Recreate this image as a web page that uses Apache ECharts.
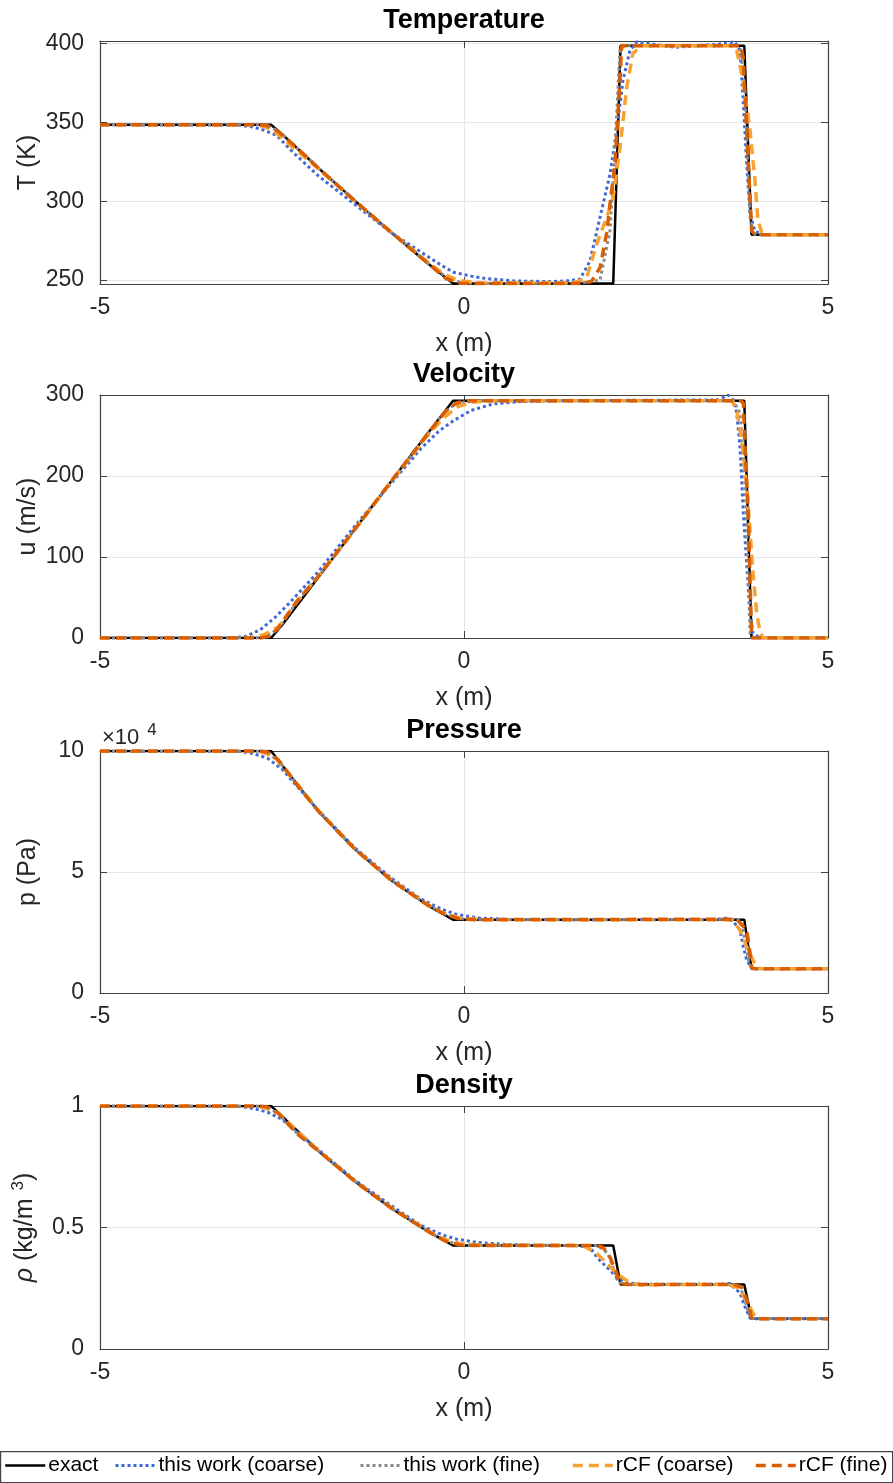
<!DOCTYPE html>
<html>
<head>
<meta charset="utf-8">
<script src="https://cdn.jsdelivr.net/npm/echarts@6/dist/echarts.min.js"></script>
<style>
  html, body { margin: 0; padding: 0; background: #fff; }
  #chart { width: 893px; height: 1483px; }
</style>
</head>
<body>
<div id="chart"></div>
<script>
const seriesNames = ['exact', 'this work (coarse)', 'this work (fine)', 'rCF (coarse)', 'rCF (fine)']
const xTicks = [-5, 0, 5]
const tempTicks = [250, 300, 350, 400]

// temperature (K)
const tempExact = [[-5, 348.4], [-2.65, 348.4], [-2.5, 342.5], [-2, 321], [-1.5, 300.3], [-1, 280.1], [-0.5, 260.7], [-0.15, 247.8], [2.05, 247.8], [2.15, 398.5], [3.85, 398.5], [3.95, 278.7], [5, 278.7]]
const tempCoarse = [[-5, 348.4], [-3.1, 348.2], [-2.9, 347], [-2.75, 345], [-2.57, 341.6], [-2.35, 331], [-2, 316], [-1.5, 298], [-1, 280], [-0.6, 268], [-0.3, 259], [-0.15, 255], [0.1, 252.5], [0.3, 251], [0.7, 249.4], [1.2, 249], [1.45, 249.6], [1.593, 250.6], [1.731, 262], [1.868, 289.7], [2.005, 317], [2.098, 344.8], [2.184, 376.6], [2.28, 395.7], [2.376, 401], [2.6, 399.5], [2.9, 397.5], [3.2, 398.5], [3.5, 399.5], [3.72, 401], [3.791, 395.7], [3.832, 366], [3.883, 323.8], [3.929, 292], [3.997, 281], [4.1, 278.8], [5, 278.7]]
const tempFine = [[-5, 348.4], [-2.85, 348.4], [-2.7, 347.8], [-2.55, 344.5], [-2.3, 334], [-2, 321], [-1.5, 300.3], [-1, 280.3], [-0.5, 261], [-0.25, 252], [-0.05, 248.5], [0.2, 247.8], [1.6, 248], [1.868, 250], [2.005, 281], [2.047, 313], [2.098, 356], [2.143, 396], [2.2, 398.5], [3.75, 398.5], [3.8, 396], [3.86, 370], [3.9, 320], [3.93, 290], [3.96, 280], [4.0, 278.7], [5, 278.7]]
const tempRcfCoarse = [[-5, 348.4], [-2.9, 348.4], [-2.75, 347.5], [-2.6, 344], [-2.4, 336], [-2, 320.5], [-1.5, 300], [-1, 280.3], [-0.5, 261.5], [-0.3, 254.5], [-0.1, 250], [0.2, 248.2], [1.45, 248.3], [1.55, 249], [1.685, 251.5], [1.823, 273], [1.96, 289.7], [2.047, 302], [2.143, 334], [2.235, 372], [2.321, 393.8], [2.45, 398.5], [3.68, 398.5], [3.746, 395.7], [3.832, 376.6], [3.929, 344.8], [3.997, 313], [4.038, 287.5], [4.093, 280], [4.2, 278.7], [5, 278.7]]
const tempRcfFine = [[-5, 348.4], [-2.8, 348.4], [-2.7, 347.8], [-2.55, 344], [-2.3, 334], [-2, 321], [-1.5, 300.3], [-1, 280.2], [-0.5, 260.8], [-0.25, 251], [-0.05, 248], [0.15, 247.8], [1.6, 247.8], [1.75, 249], [1.87, 258], [1.96, 280], [2.005, 298], [2.074, 323.8], [2.143, 376.6], [2.166, 398.5], [3.8, 398.5], [3.835, 391.5], [3.883, 344.8], [3.929, 302.4], [3.953, 281.2], [4.0, 278.7], [5, 278.7]]

// velocity (m/s)
const velExact = [[-5, 0], [-2.65, 0], [-2.5, 15.9], [-2, 75.1], [-1.5, 134.2], [-1, 193.5], [-0.5, 252.6], [-0.15, 293], [3.85, 293], [3.95, 0], [5, 0]]
const velCoarse = [[-5, 0], [-3.2, 0], [-3.0, 2], [-2.8, 10], [-2.6, 25], [-2.4, 43], [-2, 82], [-1.5, 138], [-1, 191], [-0.6, 233], [-0.35, 255], [-0.15, 268], [0.1, 281], [0.4, 289], [0.8, 292], [1.5, 293], [3.5, 294], [3.626, 300], [3.695, 294], [3.746, 278], [3.791, 236], [3.815, 195], [3.837, 154], [3.883, 92], [3.929, 31], [3.97, 6], [4.066, 0], [5, 0]]
const velFine = [[-5, 0], [-2.85, 0], [-2.7, 3], [-2.55, 11], [-2.3, 44], [-2, 76], [-1.5, 134], [-1, 193], [-0.5, 251], [-0.3, 276], [-0.15, 287], [0, 291.5], [0.3, 293], [3.7, 293], [3.791, 278], [3.86, 195], [3.905, 72], [3.929, 6], [3.97, 0], [5, 0]]
const velRcfCoarse = [[-5, 0], [-2.95, 0], [-2.75, 4], [-2.55, 14], [-2.3, 44], [-2, 76], [-1.5, 134], [-1, 193], [-0.5, 250], [-0.3, 270], [-0.1, 285], [0.1, 291], [0.4, 293], [3.68, 293], [3.746, 281], [3.815, 244], [3.883, 187], [3.929, 133], [3.97, 80], [4.02, 31], [4.066, 8], [4.107, 0], [5, 0]]
const velRcfFine = [[-5, 0], [-2.8, 0], [-2.68, 2], [-2.55, 12], [-2.3, 45], [-2, 76], [-1.5, 134.2], [-1, 193.5], [-0.5, 252], [-0.25, 280], [-0.1, 290.5], [0.1, 293], [3.8, 293], [3.837, 290], [3.86, 236], [3.905, 154], [3.929, 72], [3.952, 0], [5, 0]]

// pressure (Pa)
const presExact = [[-5, 100000], [-2.65, 100000], [-2.5, 94200], [-2, 75090], [-1.5, 59450], [-1, 46580], [-0.5, 36230], [-0.15, 30313], [3.85, 30313], [3.95, 10000], [5, 10000]]
const presCoarse = [[-5, 100000], [-3.1, 99900], [-2.9, 99000], [-2.7, 97000], [-2.5, 92500], [-2, 75500], [-1.5, 60000], [-1, 47500], [-0.6, 39000], [-0.3, 34500], [-0.1, 32500], [0.2, 31000], [0.6, 30400], [1.5, 30300], [3.45, 30400], [3.608, 30900], [3.7, 29500], [3.791, 26000], [3.837, 19100], [3.883, 13600], [3.952, 10200], [4.03, 10000], [5, 10000]]
const presFine = [[-5, 100000], [-2.85, 100000], [-2.7, 99300], [-2.55, 96000], [-2.3, 86500], [-2, 75200], [-1.5, 59500], [-1, 46600], [-0.5, 36400], [-0.25, 32500], [-0.05, 30700], [0.2, 30313], [3.75, 30313], [3.8, 29500], [3.86, 22000], [3.91, 13000], [3.95, 10000], [5, 10000]]
const presRcfCoarse = [[-5, 100000], [-2.9, 100000], [-2.75, 99300], [-2.6, 97500], [-2.4, 90500], [-2, 75300], [-1.5, 59600], [-1, 46800], [-0.5, 36600], [-0.3, 33300], [-0.05, 31000], [0.3, 30300], [3.65, 30313], [3.695, 30000], [3.791, 26000], [3.883, 19100], [3.97, 13600], [4.038, 10300], [4.1, 10000], [5, 10000]]
const presRcfFine = [[-5, 100000], [-2.8, 100000], [-2.7, 99600], [-2.55, 96300], [-2.3, 86300], [-2, 75100], [-1.5, 59450], [-1, 46600], [-0.5, 36300], [-0.25, 32300], [-0.05, 30500], [0.15, 30313], [3.746, 30500], [3.883, 26000], [3.929, 16500], [3.952, 10300], [4.0, 10000], [5, 10000]]

// density (kg/m^3)
const rhoExact = [[-5, 1], [-2.65, 1], [-2.5, 0.958], [-2, 0.815], [-1.5, 0.69], [-1, 0.5794], [-0.5, 0.4843], [-0.15, 0.4263], [2.05, 0.4263], [2.15, 0.2656], [3.85, 0.2656], [3.95, 0.125], [5, 0.125]]
const rhoCoarse = [[-5, 1], [-3.1, 0.999], [-2.9, 0.99], [-2.7, 0.975], [-2.5, 0.945], [-2, 0.82], [-1.5, 0.695], [-1, 0.59], [-0.6, 0.51], [-0.3, 0.47], [-0.1, 0.452], [0.2, 0.438], [0.6, 0.43], [1.0, 0.427], [1.5, 0.426], [1.731, 0.419], [1.823, 0.378], [1.96, 0.337], [2.098, 0.296], [2.235, 0.272], [2.45, 0.266], [3.5, 0.266], [3.654, 0.27], [3.791, 0.23], [3.86, 0.173], [3.929, 0.127], [4.0, 0.125], [5, 0.125]]
const rhoFine = [[-5, 1], [-2.85, 1], [-2.7, 0.995], [-2.55, 0.968], [-2.3, 0.89], [-2, 0.815], [-1.5, 0.69], [-1, 0.58], [-0.5, 0.486], [-0.25, 0.444], [-0.05, 0.429], [0.2, 0.4263], [1.8, 0.4263], [1.868, 0.419], [1.978, 0.393], [2.047, 0.337], [2.115, 0.275], [2.2, 0.2656], [3.75, 0.2656], [3.8, 0.25], [3.86, 0.2], [3.91, 0.145], [3.95, 0.126], [5, 0.125]]
const rhoRcfCoarse = [[-5, 1], [-2.9, 1], [-2.75, 0.993], [-2.55, 0.972], [-2.3, 0.9], [-2, 0.817], [-1.5, 0.692], [-1, 0.582], [-0.5, 0.488], [-0.3, 0.455], [-0.05, 0.433], [0.3, 0.427], [1.5, 0.426], [1.635, 0.426], [1.823, 0.393], [1.96, 0.352], [2.098, 0.311], [2.28, 0.272], [2.459, 0.262], [2.7, 0.265], [3.6, 0.266], [3.746, 0.255], [3.883, 0.2], [3.97, 0.147], [4.02, 0.127], [4.1, 0.125], [5, 0.125]]
const rhoRcfFine = [[-5, 1], [-2.8, 1], [-2.7, 0.996], [-2.55, 0.97], [-2.3, 0.888], [-2, 0.815], [-1.5, 0.69], [-1, 0.58], [-0.5, 0.485], [-0.25, 0.443], [-0.05, 0.428], [0.15, 0.4263], [1.8, 0.4263], [1.909, 0.419], [2.005, 0.378], [2.098, 0.311], [2.143, 0.27], [2.25, 0.2656], [3.7, 0.2656], [3.815, 0.255], [3.905, 0.187], [3.952, 0.127], [4.0, 0.125], [5, 0.125]]

const font = 'Liberation Sans, Arial, Helvetica, sans-serif'
const axisColor = '#404040'
const textColor = '#262626'

const lineStyles = [
  { color: '#000000', width: 2.5, type: 'solid' },
  { color: '#3f68d6', width: 3, type: [3, 3] },
  { color: '#8a8a8a', width: 3, type: [3, 3] },
  { color: '#f9a231', width: 3.5, type: [10, 6] },
  { color: '#d95f02', width: 3.5, type: [10, 6] },
]

const panels = [
  { title: 'Temperature', yName: 'T (K)', top: 41, height: 243, min: 247.5, max: 401.5, custom: tempTicks,
    data: [tempExact, tempCoarse, tempFine, tempRcfCoarse, tempRcfFine] },
  { title: 'Velocity', yName: 'u (m/s)', top: 395, height: 243, min: 0, max: 300, interval: 100,
    data: [velExact, velCoarse, velFine, velRcfCoarse, velRcfFine] },
  { title: 'Pressure', yName: 'p (Pa)', top: 751, height: 242, min: 0, max: 100000, interval: 50000,
    fmt: v => String(v / 10000),
    data: [presExact, presCoarse, presFine, presRcfCoarse, presRcfFine] },
  { title: 'Density', yName: '{i|ρ} (kg/m{s|3})', top: 1106, height: 243, min: 0, max: 1, interval: 0.5,
    data: [rhoExact, rhoCoarse, rhoFine, rhoRcfCoarse, rhoRcfFine] },
]

const grids = []
const xAxes = []
const yAxes = []
const titles = []
const series = []

panels.forEach((p, i) => {
  grids.push({ left: 100, width: 728, top: p.top, height: p.height, containLabel: false })
  titles.push({
    text: p.title, left: 464, top: p.top - 34, textAlign: 'center', padding: 0,
    textStyle: { fontFamily: font, fontSize: 27, fontWeight: 'bold', color: '#000' },
  })
  // bottom x axis
  xAxes.push({
    type: 'value', gridIndex: i, min: -5, max: 5, interval: 5, position: 'bottom',
    name: 'x (m)', nameLocation: 'middle', nameGap: 48, nameMoveOverlap: false,
    nameTextStyle: { fontFamily: font, fontSize: 25, color: textColor },
    axisLine: { show: true, onZero: false, lineStyle: { color: axisColor, width: 1.2 } },
    axisTick: { show: true, inside: true, length: 7, lineStyle: { color: axisColor } },
    axisLabel: { margin: 12, fontFamily: font, fontSize: 23, color: textColor, showMinLabel: true, showMaxLabel: true },
    splitLine: { show: true, lineStyle: { color: '#e6e6e6', width: 1 } },
  })
  // top x axis (box)
  xAxes.push({
    type: 'value', gridIndex: i, min: -5, max: 5, interval: 5, position: 'top',
    axisLine: { show: true, onZero: false, lineStyle: { color: axisColor, width: 1.2 } },
    axisTick: { show: true, inside: true, length: 7, lineStyle: { color: axisColor } },
    axisLabel: { show: false }, splitLine: { show: false },
  })
  const yTickCfg = p.custom
    ? { axisTick: { customValues: p.custom }, axisLabel: { customValues: p.custom } }
    : { axisTick: {}, axisLabel: {} }
  const yBase = {
    type: 'value', gridIndex: i, min: p.min, max: p.max,
  }
  if (p.interval) yBase.interval = p.interval
  yAxes.push(Object.assign({}, yBase, {
    position: 'left',
    name: p.yName, nameLocation: 'middle', nameGap: 59, nameMoveOverlap: false,
    nameTextStyle: {
      fontFamily: font, fontSize: 25, color: textColor,
      rich: {
        i: { fontFamily: font, fontSize: 25, fontStyle: 'italic', color: textColor },
        s: { fontFamily: font, fontSize: 17, color: textColor, padding: [0, 0, 14, 8], verticalAlign: 'bottom' },
      },
    },
    axisLine: { show: true, onZero: false, lineStyle: { color: axisColor, width: 1.2 } },
    axisTick: Object.assign({ show: true, inside: true, length: 7, lineStyle: { color: axisColor } }, yTickCfg.axisTick),
    axisLabel: Object.assign({ margin: 16, fontFamily: font, fontSize: 23, color: textColor,
      formatter: p.fmt || (v => String(v)) }, yTickCfg.axisLabel),
    splitLine: { show: true, lineStyle: { color: '#e6e6e6', width: 1 } },
  }))
  yAxes.push(Object.assign({}, yBase, {
    position: 'right',
    axisLine: { show: true, onZero: false, lineStyle: { color: axisColor, width: 1.2 } },
    axisTick: Object.assign({ show: true, inside: true, length: 7, lineStyle: { color: axisColor } }, yTickCfg.axisTick),
    axisLabel: Object.assign({ show: false }, yTickCfg.axisLabel),
    splitLine: { show: false },
  }))
  p.data.forEach((d, k) => {
    series.push({
      name: seriesNames[k], type: 'line', xAxisIndex: 2 * i, yAxisIndex: 2 * i,
      data: d, symbol: 'none', showSymbol: false, animation: false,
      lineStyle: lineStyles[k], itemStyle: { color: lineStyles[k].color },
      z: 2 + k,
    })
  })
})

// one legend per entry so each sits where the original puts it
const legendLefts = [4, 114, 359, 571, 754]
const legends = seriesNames.map((n, k) => ({
  data: [n], left: legendLefts[k], top: 1455, orient: 'horizontal',
  itemWidth: 40, itemHeight: 22, itemGap: 0, padding: 0,
  selectedMode: false,
  itemStyle: { opacity: 0 },
  lineStyle: { width: lineStyles[k].width },
  textStyle: { fontFamily: font, fontSize: 21, color: '#000', padding: [0, 0, 0, -2] },
}))

const chart = echarts.init(document.getElementById('chart'), null, { renderer: 'canvas' })
chart.setOption({
  animation: false,
  backgroundColor: '#ffffff',
  title: titles,
  grid: grids,
  xAxis: xAxes,
  yAxis: yAxes,
  legend: legends,
  series: series,
  graphic: [
    {
      type: 'rect', left: 0, top: 1451, z: -1,
      shape: { width: 892, height: 31 },
      style: { fill: '#fff', stroke: '#444', lineWidth: 1.2 },
    },
    {
      type: 'text', left: 102, top: 722,
      style: {
        text: '×10{s|4}', fontFamily: font, fontSize: 22, fill: textColor,
        rich: { s: { fontSize: 17, fontFamily: font, fill: textColor, padding: [0, 0, 14, 8], verticalAlign: 'bottom' } },
      },
    },
  ],
})
</script>
</body>
</html>
